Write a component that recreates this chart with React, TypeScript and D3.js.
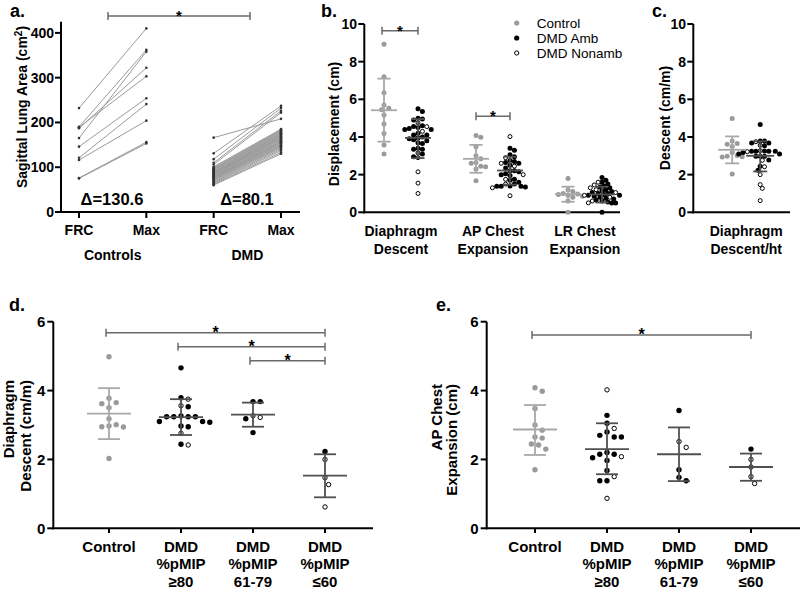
import React from "react";
import * as d3 from "d3";

const FONT = "'Liberation Sans', Arial, sans-serif";
const GRAY = "#9a9a9a";
const CTRL_BAR = "#a8a8a8";
const DMD_BAR = "#505050";
const BRACKET = "#6a6a6a";

// ---------- Panel a ----------
const aTicks = [0, 100, 200, 300, 400];
const aPhases = ["FRC", "Max"];
const aGroups = ["Controls", "DMD"];
const aDeltas = ["\u0394=130.6", "\u0394=80.1"];
const aControlFRC = [232, 190, 189, 187, 165, 146, 121, 116, 76, 75];
const aControlMax = [410, 362, 303, 322, 358, 254, 241, 204, 156, 153];
const aDmdFRC = [166, 131, 118, 110, 106, 101, 99, 97, 96, 95, 93, 92, 90, 89, 88, 87, 86, 85, 84, 83, 82, 80, 79, 78, 77, 76, 75, 73, 72, 70, 68, 66, 64, 62, 60];
const aDmdMax = [208, 237, 232, 226, 222, 185, 183, 182, 180, 178, 176, 175, 173, 172, 170, 168, 167, 165, 164, 162, 160, 158, 157, 155, 154, 152, 150, 148, 147, 145, 143, 140, 137, 133, 130];

// ---------- Panel b ----------
const bTicks = [0, 2, 4, 6, 8, 10];
const bCategories = [["Diaphragm", "Descent"], ["AP Chest", "Expansion"], ["LR Chest", "Expansion"]];
const bLegend = ["Control", "DMD Amb", "DMD Nonamb"];
const bControl = [
  [8.92, 7.2, 6.35, 5.7, 5.52, 5.45, 5.17, 4.69, 4.19, 3.57, 3.1],
  [4.08, 3.98, 3.48, 3.0, 2.85, 2.65, 2.6, 2.45, 2.42, 2.3, 1.68],
  [1.8, 1.2, 1.1, 1.0, 0.97, 0.95, 0.9, 0.85, 0.8, 0.6, 0.0],
];
const bAmb = [
  [5.5, 5.35, 5.0, 4.95, 4.9, 4.6, 4.55, 4.5, 4.45, 4.4, 4.4, 4.2, 4.1, 4.1, 4.0, 3.95, 3.9, 3.85, 3.8, 3.7, 3.65, 3.4, 3.35, 3.35, 3.1, 2.95],
  [3.4, 3.3, 3.05, 2.95, 2.75, 2.7, 2.65, 2.6, 2.5, 2.35, 2.2, 2.2, 2.15, 2.05, 2.0, 1.95, 1.75, 1.7, 1.6, 1.5, 1.4, 1.38, 1.38, 1.38, 1.35],
  [1.85, 1.7, 1.6, 1.5, 1.4, 1.35, 1.3, 1.2, 1.15, 1.1, 1.05, 1.0, 1.0, 0.95, 0.9, 0.9, 0.85, 0.8, 0.75, 0.7, 0.65, 0.6, 0.55, 0.5, 0.5, 0.0],
];
const bNon = [
  [4.75, 4.55, 4.3, 3.15, 2.9, 2.15, 1.55, 1.0],
  [4.02, 2.9, 2.6, 2.45, 2.0, 1.75, 1.5, 1.3, 0.88],
  [1.6, 1.45, 1.3, 1.2, 1.05, 0.9, 0.8, 0.6, 0.5],
];
// mean, upper SD, lower SD
const bControlStats = [[5.42, 7.1, 3.75], [2.84, 3.58, 2.1], [0.97, 1.36, 0.56]];
const bDmdStats = [[3.95, 4.95, 2.88], [2.22, 2.95, 1.47], [0.95, 1.36, 0.52]];

// ---------- Panel c ----------
const cCategory = ["Diaphragm", "Descent/ht"];
const cControl = [4.98, 3.78, 3.65, 3.62, 3.5, 3.18, 3.01, 2.97, 2.95, 2.94, 2.03];
const cAmb = [4.66, 3.79, 3.78, 3.68, 3.68, 3.53, 3.26, 3.24, 3.24, 3.24, 3.24, 3.18, 3.1, 3.1, 2.97, 2.97, 2.97, 2.78, 2.44, 2.23];
const cNon = [3.75, 3.56, 3.27, 3.22, 2.76, 2.42, 2.0, 1.47, 1.27, 0.62];
const cControlStats = [3.32, 4.03, 2.6];
const cDmdStats = [3.0, 3.77, 2.17];

// ---------- Panels d, e ----------
const deTicks = [0, 2, 4, 6];
const deCategories = [["Control"], ["DMD", "%pMIP", "\u226580"], ["DMD", "%pMIP", "61-79"], ["DMD", "%pMIP", "\u226460"]];
const dControl = [4.98, 3.78, 3.65, 3.62, 3.5, 3.18, 3.01, 2.97, 2.95, 2.94, 2.03];
const dAmb = [
  [],
  [4.66, 3.79, 3.53, 3.26, 3.24, 3.24, 3.24, 3.24, 3.1, 3.1, 3.08, 2.97, 2.95, 2.44],
  [3.68, 3.68, 3.18, 2.78],
  [2.23],
];
const dNon = [[], [3.75, 3.56, 2.76, 2.42], [3.27, 3.22], [2.0, 1.47, 1.27, 0.62]];
const dStats = [[3.33, 4.07, 2.59], [3.23, 3.75, 2.71], [3.3, 3.65, 2.95], [1.53, 2.15, 0.9]];

const eControl = [4.08, 3.98, 3.48, 3.0, 2.85, 2.65, 2.62, 2.45, 2.42, 2.3, 1.7];
const eAmb = [
  [],
  [3.28, 3.05, 2.8, 2.7, 2.65, 2.65, 2.2, 2.15, 2.15, 2.05, 1.97, 1.68, 1.38, 1.38],
  [3.42, 1.7, 1.48, 1.38],
  [2.3],
];
const eNon = [[], [4.02, 2.9, 2.08, 1.5, 0.87], [2.52, 2.35], [2.0, 1.78, 1.5, 1.3]];
const eStats = [[2.87, 3.58, 2.13], [2.3, 3.05, 1.57], [2.15, 2.93, 1.37], [1.78, 2.17, 1.38]];

type Kind = "ctrl" | "amb" | "non";
type Pt = { v: number; kind: Kind };

function swarm(pts: Pt[], y: (v: number) => number, d: number) {
  const order = pts.map((_, i) => i).sort((a, b) => pts[b].v - pts[a].v);
  const placed: { x: number; y: number; kind: Kind }[] = [];
  for (const i of order) {
    const py = y(pts[i].v);
    let best = 0;
    for (let k = 0; k < 100; k++) {
      const m = Math.ceil(k / 2) * (k % 2 === 1 ? 1 : -1) * (d / 2);
      if (placed.every((p) => (p.x - m) ** 2 + (p.y - py) ** 2 >= d * d)) {
        best = m;
        break;
      }
    }
    placed.push({ x: best, y: py, kind: pts[i].kind });
  }
  return placed;
}

function mk(vals: number[], kind: Kind): Pt[] {
  return vals.map((v) => ({ v, kind }));
}

function Dots({ pts, cx, y, d, r }: { pts: Pt[]; cx: number; y: (v: number) => number; d: number; r: number }) {
  const laid = swarm(pts, y, d);
  return (
    <g>
      {laid.map((p, i) => (
        <circle
          key={i}
          cx={cx + p.x}
          cy={p.y}
          r={p.kind === "non" ? r - 0.5 : r}
          fill={p.kind === "ctrl" ? GRAY : p.kind === "amb" ? "#000" : "#fff"}
          stroke={p.kind === "non" ? "#000" : "none"}
          strokeWidth={1}
        />
      ))}
    </g>
  );
}

function ErrBar({ stats, cx, y, mw, cw, color }: { stats: number[]; cx: number; y: (v: number) => number; mw: number; cw: number; color: string }) {
  const [m, hi, lo] = stats;
  return (
    <g stroke={color} strokeWidth={1.8} fill="none">
      <line x1={cx} x2={cx} y1={y(hi)} y2={y(lo)} />
      <line x1={cx - cw} x2={cx + cw} y1={y(hi)} y2={y(hi)} />
      <line x1={cx - cw} x2={cx + cw} y1={y(lo)} y2={y(lo)} />
      <line x1={cx - mw} x2={cx + mw} y1={y(m)} y2={y(m)} />
    </g>
  );
}

function Bracket({ x1, x2, y, fs = 15 }: { x1: number; x2: number; y: number; fs?: number }) {
  return (
    <g>
      <g stroke={BRACKET} strokeWidth={1.5}>
        <line x1={x1} x2={x2} y1={y} y2={y} />
        <line x1={x1} x2={x1} y1={y - 4} y2={y + 4} />
        <line x1={x2} x2={x2} y1={y - 4} y2={y + 4} />
      </g>
      <text x={(x1 + x2) / 2} y={y + 5} textAnchor="middle" fontSize={fs} fontWeight="bold" fontFamily={FONT}>*</text>
    </g>
  );
}

function YAxis({ x, y, ticks, top, fs, labelX }: { x: number; y: d3.ScaleLinear<number, number>; ticks: number[]; top: number; fs: number; labelX: number }) {
  const y0 = y(0);
  return (
    <g>
      <line x1={x} x2={x} y1={y0 + 1} y2={top} stroke="#000" strokeWidth={2} />
      {ticks.map((t) => (
        <g key={t}>
          <line x1={x - 6} x2={x} y1={y(t)} y2={y(t)} stroke="#000" strokeWidth={2} />
          <text x={labelX} y={y(t) + fs * 0.36} textAnchor="end" fontSize={fs} fontWeight="bold" fontFamily={FONT}>{t}</text>
        </g>
      ))}
    </g>
  );
}

function PanelA() {
  const y = d3.scaleLinear().domain([0, 425]).range([212, 21.7]);
  const x = d3.scalePoint<string>().domain(["c0", "c1", "d0", "d1"]).range([79, 281]);
  const xs = [x("c0")!, x("c1")!, x("d0")!, x("d1")!];
  const groups = [
    { frc: aControlFRC, max: aControlMax, x0: xs[0], x1: xs[1] },
    { frc: aDmdFRC, max: aDmdMax, x0: xs[2], x1: xs[3] },
  ];
  return (
    <g>
      <text x={10} y={17} fontSize={18} fontWeight="bold" fontFamily={FONT}>a.</text>
      <YAxis x={61} y={y} ticks={aTicks} top={21.7} fs={14} labelX={54} />
      <line x1={60} x2={300} y1={212} y2={212} stroke="#000" strokeWidth={2} />
      {xs.map((xx, i) => (
        <g key={i}>
          <line x1={xx} x2={xx} y1={212} y2={218} stroke="#000" strokeWidth={2} />
          <text x={xx} y={235} textAnchor="middle" fontSize={14} fontWeight="bold" fontFamily={FONT}>{aPhases[i % 2]}</text>
        </g>
      ))}
      {aGroups.map((g, i) => (
        <text key={g} x={(xs[i * 2] + xs[i * 2 + 1]) / 2} y={260} textAnchor="middle" fontSize={14} fontWeight="bold" fontFamily={FONT}>{g}</text>
      ))}
      <text transform={`translate(27,107) rotate(-90)`} textAnchor="middle" fontSize={14} fontWeight="bold" fontFamily={FONT}>
        Sagittal Lung Area (cm<tspan dy={-5} fontSize={10}>2</tspan><tspan dy={5}>)</tspan>
      </text>
      {groups.map((g, gi) => (
        <g key={gi}>
          {g.frc.map((v, i) => (
            <line key={i} x1={g.x0} x2={g.x1} y1={y(v)} y2={y(g.max[i])} stroke={GRAY} strokeWidth={1} />
          ))}
          {g.frc.map((v, i) => (
            <g key={"p" + i} fill="#333">
              <circle cx={g.x0} cy={y(v)} r={1.3} />
              <circle cx={g.x1} cy={y(g.max[i])} r={1.3} />
            </g>
          ))}
        </g>
      ))}
      {aDeltas.map((t, i) => (
        <text key={t} x={i === 0 ? 112 : 247} y={205} textAnchor="middle" fontSize={16.5} fontWeight="bold" fontFamily={FONT}>{t}</text>
      ))}
      <Bracket x1={108} x2={250} y={16} fs={15} />
    </g>
  );
}

function PanelB() {
  const y = d3.scaleLinear().domain([0, 10]).range([212.3, 24]);
  const x = d3.scalePoint<number>().domain([0, 1, 2]).range([401, 585]);
  const off = 17;
  return (
    <g>
      <text x={321} y={17} fontSize={18} fontWeight="bold" fontFamily={FONT}>b.</text>
      <YAxis x={364.3} y={y} ticks={bTicks} top={24} fs={14} labelX={357} />
      <line x1={363} x2={620} y1={212.3} y2={212.3} stroke="#000" strokeWidth={2} />
      <text transform={`translate(339,124) rotate(-90)`} textAnchor="middle" fontSize={14} fontWeight="bold" fontFamily={FONT}>Displacement (cm)</text>
      {bCategories.map((c, i) => (
        <g key={i}>
          <Dots pts={mk(bControl[i], "ctrl")} cx={x(i)! - off} y={y} d={4.8} r={2.5} />
          <Dots pts={[...mk(bAmb[i], "amb"), ...mk(bNon[i], "non")]} cx={x(i)! + off} y={y} d={i === 2 ? 3.9 : 4.4} r={2.5} />
          <ErrBar stats={bControlStats[i]} cx={x(i)! - off} y={y} mw={13} cw={6.5} color={CTRL_BAR} />
          <ErrBar stats={bDmdStats[i]} cx={x(i)! + off} y={y} mw={13} cw={6.5} color={DMD_BAR} />
          {c.map((t, j) => (
            <text key={j} x={x(i)!} y={236 + j * 18} textAnchor="middle" fontSize={14} fontWeight="bold" fontFamily={FONT}>{t}</text>
          ))}
        </g>
      ))}
      <Bracket x1={x(0)! - off - 2} x2={x(0)! + off} y={30.7} fs={15} />
      <Bracket x1={x(1)! - off} x2={x(1)! + off} y={116.3} fs={15} />
      {bLegend.map((t, i) => (
        <g key={t}>
          <circle cx={516.7} cy={23 + i * 15} r={i === 2 ? 2.1 : 2.6} fill={i === 0 ? GRAY : i === 1 ? "#000" : "#fff"} stroke={i === 2 ? "#000" : "none"} strokeWidth={1} />
          <text x={536.7} y={23 + i * 15 + 4.8} fontSize={13.5} fontFamily={FONT}>{t}</text>
        </g>
      ))}
    </g>
  );
}

function PanelC() {
  const y = d3.scaleLinear().domain([0, 10]).range([212.3, 24]);
  const cx = 746.2;
  const off = 14;
  return (
    <g>
      <text x={652} y={17} fontSize={18} fontWeight="bold" fontFamily={FONT}>c.</text>
      <YAxis x={693.3} y={y} ticks={bTicks} top={24} fs={14} labelX={686} />
      <line x1={692} x2={790} y1={212.3} y2={212.3} stroke="#000" strokeWidth={2} />
      <text transform={`translate(670,118) rotate(-90)`} textAnchor="middle" fontSize={14} fontWeight="bold" fontFamily={FONT}>Descent (cm/m)</text>
      <Dots pts={mk(cControl, "ctrl")} cx={cx - off} y={y} d={5.0} r={2.5} />
      <Dots pts={[...mk(cAmb, "amb"), ...mk(cNon, "non")]} cx={cx + off} y={y} d={4.3} r={2.5} />
      <ErrBar stats={cControlStats} cx={cx - off} y={y} mw={14} cw={7} color={CTRL_BAR} />
      <ErrBar stats={cDmdStats} cx={cx + off} y={y} mw={14} cw={7} color={DMD_BAR} />
      {cCategory.map((t, j) => (
        <text key={j} x={cx} y={236 + j * 18} textAnchor="middle" fontSize={14} fontWeight="bold" fontFamily={FONT}>{t}</text>
      ))}
    </g>
  );
}

function PanelDE({ letter, lx, axisX, xr, xEnd, titleLines, titleXs, titleEnd, ctrl, amb, non, stats, brackets }: any) {
  const y = d3.scaleLinear().domain([0, 6]).range([528.3, 321.7]);
  const x = d3.scalePoint<number>().domain([0, 1, 2, 3]).range(xr);
  return (
    <g>
      <text x={lx} y={311} fontSize={18} fontWeight="bold" fontFamily={FONT}>{letter}</text>
      <YAxis x={axisX} y={y} ticks={deTicks} top={321.7} fs={15} labelX={axisX - 8} />
      <line x1={axisX - 1} x2={xEnd} y1={528.3} y2={528.3} stroke="#000" strokeWidth={2} />
      {titleLines.map((t: string, i: number) => (
        <text key={i} transform={`translate(${titleXs[i]},${titleEnd}) rotate(-90)`} textAnchor="end" fontSize={15} fontWeight="bold" fontFamily={FONT}>{t}</text>
      ))}
      {deCategories.map((c, i) => {
        const cx = x(i)!;
        const pts: Pt[] = i === 0 ? mk(ctrl, "ctrl") : [...mk(amb[i], "amb"), ...mk(non[i], "non")];
        return (
          <g key={i}>
            <line x1={cx} x2={cx} y1={528.3} y2={533} stroke="#000" strokeWidth={2} />
            <Dots pts={pts} cx={cx} y={y} d={7.2} r={2.7} />
            <ErrBar stats={stats[i]} cx={cx} y={y} mw={22} cw={11} color={i === 0 ? CTRL_BAR : DMD_BAR} />
            {c.map((t, j) => (
              <text key={j} x={cx} y={551.5 + j * 17.5} textAnchor="middle" fontSize={15} fontWeight="bold" fontFamily={FONT}>{t}</text>
            ))}
          </g>
        );
      })}
      {brackets.map((b: number[], i: number) => (
        <Bracket key={i} x1={x(b[0])! - 3} x2={x(b[1])!} y={b[2]} fs={16} />
      ))}
    </g>
  );
}

export default function App() {
  return (
    <svg width={800} height={589} style={{ position: "absolute", left: 0, top: 0, background: "#fff" }}>
      <rect width={800} height={589} fill="#fff" />
      <PanelA />
      <PanelB />
      <PanelC />
      <PanelDE
        letter="d." lx={9} axisX={53.3} xr={[109, 325]} xEnd={373}
        titleLines={["Diaphragm", "Descent (cm/m)"]} titleXs={[14, 31]} titleEnd={380}
        ctrl={dControl} amb={dAmb} non={dNon} stats={dStats}
        brackets={[[0, 3, 332.7], [1, 3, 346.7], [2, 3, 360.7]]}
      />
      <PanelDE
        letter="e." lx={436} axisX={486.7} xr={[535, 751]} xEnd={800}
        titleLines={["AP Chest", "Expansion (cm)"]} titleXs={[442, 457]} titleEnd={384}
        ctrl={eControl} amb={eAmb} non={eNon} stats={eStats}
        brackets={[[0, 3, 335]]}
      />
    </svg>
  );
}
